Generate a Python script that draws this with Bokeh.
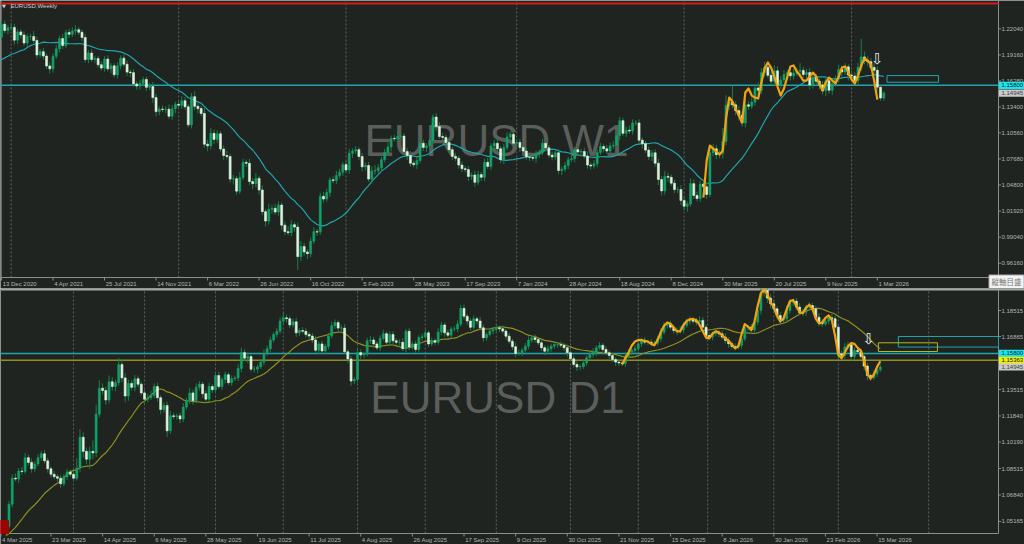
from bokeh.plotting import figure
from bokeh.layouts import column
from bokeh.models import Range1d
from bokeh.core.properties import value
from bokeh.embed import file_html
from bokeh.resources import INLINE

# ---------------- WEEKLY (EURUSD W1) ----------------
# 20 closes before the first visible week (feed the 20-week MA only)
w_pre = [1.1778, 1.1787, 1.1841, 1.1795, 1.1903, 1.1838, 1.1846, 1.1838, 1.1631, 1.1715,
         1.1826, 1.1718, 1.1860, 1.1647, 1.1875, 1.1834, 1.1856, 1.1962, 1.2121, 1.2112]
# weekly closes, week 0 = 13 Dec 2020
w_close = [
    1.2255, 1.2185, 1.2216, 1.2219, 1.2079, 1.2170, 1.2136, 1.2047, 1.2118, 1.2120, 1.2075, 1.1915, 1.1952, 1.1903, 1.1794, 1.1762, 1.1900, 1.1983, 1.2097, 1.2020, 1.2164, 1.2143, 1.2180, 1.2194, 1.2166,
    1.2108, 1.1864, 1.1936, 1.1865, 1.1875, 1.1807, 1.1770, 1.1870, 1.1762, 1.1795, 1.1697, 1.1795, 1.1880, 1.1813, 1.1726, 1.1720, 1.1596, 1.1572, 1.1601, 1.1645, 1.1558, 1.1567, 1.1445, 1.1290, 1.1318,
    1.1314, 1.1317, 1.1239, 1.1322, 1.1370, 1.1360, 1.1410, 1.1343, 1.1144, 1.1455, 1.1348, 1.1323, 1.1270, 1.0930, 1.0912, 1.1050, 1.0983, 1.1045, 1.0877, 1.0806, 1.0794, 1.0545, 1.0550, 1.0412, 1.0563,
    1.0730, 1.0719, 1.0518, 1.0495, 1.0553, 1.0425, 1.0186, 1.0082, 1.0212, 1.0223, 1.0181, 1.0259, 1.0037, 0.9965, 0.9953, 1.0042, 1.0015, 0.9690, 0.9802, 0.9741, 0.9722, 0.9860, 0.9965, 0.9960, 1.0355,
    1.0325, 1.0398, 1.0537, 1.0530, 1.0584, 1.0620, 1.0705, 1.0645, 1.0830, 1.0855, 1.0870, 1.0795, 1.0680, 1.0695, 1.0545, 1.0635, 1.0640, 1.0670, 1.0760, 1.0840, 1.0900, 1.0995, 1.0990, 1.1015, 1.1020,
    1.0850, 1.0805, 1.0720, 1.0705, 1.0750, 1.0940, 1.0895, 1.0910, 1.0970, 1.1230, 1.1125, 1.1015, 1.1005, 1.0950, 1.0870, 1.0795, 1.0775, 1.0700, 1.0660, 1.0650, 1.0575, 1.0590, 1.0510, 1.0595, 1.0565,
    1.0730, 1.0685, 1.0910, 1.0940, 1.0880, 1.0760, 1.0895, 1.1010, 1.1040, 1.0940, 1.0950, 1.0895, 1.0855, 1.0790, 1.0785, 1.0775, 1.0820, 1.0840, 1.0940, 1.0890, 1.0810, 1.0790, 1.0835, 1.0640, 1.0655,
    1.0695, 1.0760, 1.0770, 1.0870, 1.0845, 1.0850, 1.0800, 1.0700, 1.0690, 1.0715, 1.0840, 1.0905, 1.0880, 1.0855, 1.0910, 1.0915, 1.1025, 1.1190, 1.1050, 1.1085, 1.1075, 1.1165, 1.1165, 1.0975, 1.0935,
    1.0865, 1.0795, 1.0835, 1.0720, 1.0540, 1.0415, 1.0575, 1.0565, 1.0500, 1.0430, 1.0430, 1.0310, 1.0245, 1.0270, 1.0495, 1.0365, 1.0330, 1.0490, 1.0460, 1.0375, 1.0835, 1.0880, 1.0815, 1.0830, 1.0960,
    1.1360, 1.1395, 1.1365, 1.1300, 1.1250, 1.1165, 1.1365, 1.1350, 1.1395, 1.1550, 1.1525, 1.1720, 1.1780, 1.1690, 1.1625, 1.1740, 1.1585, 1.1640, 1.1700, 1.1720, 1.1685, 1.1715, 1.1735, 1.1745,
    1.1700, 1.1721, 1.1584, 1.1668, 1.1626, 1.1584, 1.1520, 1.1631, 1.1525, 1.1598, 1.1651, 1.1757, 1.1728, 1.1784, 1.1693, 1.1683, 1.1631, 1.1778, 1.1894, 1.1852, 1.1841, 1.1778, 1.1746, 1.1560, 1.1440, 1.14945]
# upper / lower wick beyond the body, in 10-pip units
w_up = [
    3, 4, 3, 5, 4, 3, 3, 4, 3, 3, 6, 4, 3, 4, 3, 4, 3, 4, 3, 5, 3, 4, 4, 5, 3,
    3, 4, 3, 4, 3, 3, 4, 3, 4, 3, 3, 4, 3, 4, 4, 3, 4, 3, 4, 3, 3, 4, 5, 4, 3,
    4, 3, 5, 4, 3, 4, 5, 4, 3, 4, 6, 4, 3, 7, 5, 6, 4, 4, 3, 4, 5, 3, 4, 3, 6,
    4, 3, 5, 4, 6, 3, 5, 3, 6, 4, 5, 4, 3, 4, 6, 5, 3, 5, 6, 4, 3, 4, 5, 3, 4,
    5, 4, 3, 4, 5, 4, 3, 4, 5, 3, 4, 3, 4, 3, 4, 5, 6, 4, 3, 4, 5, 3, 4, 6, 4,
    3, 4, 5, 3, 4, 5, 4, 3, 4, 3, 4, 5, 4, 3, 4, 3, 4, 3, 4, 3, 4, 3, 5, 4, 3,
    4, 5, 3, 4, 5, 3, 4, 5, 3, 4, 3, 4, 3, 4, 5, 3, 4, 3, 5, 4, 3, 4, 3, 4, 3,
    4, 3, 5, 3, 4, 3, 4, 5, 3, 4, 3, 4, 3, 4, 4, 5, 6, 4, 3, 4, 5, 4, 3, 4, 3,
    3, 4, 3, 4, 5, 4, 6, 4, 3, 4, 3, 5, 4, 3, 6, 5, 4, 4, 5, 3, 7, 5, 4, 4, 15,
    11, 3, 18, 4, 5, 4, 6, 4, 5, 4, 6, 5, 6, 4, 4, 6, 5, 4, 5, 3, 4, 5, 4, 8, 4,
    4, 5, 4, 4, 3, 4, 5, 4, 4, 4, 5, 4, 4, 3, 5, 4, 5, 20, 6, 5, 4, 5, 4, 3, 2]
w_dn = [
    4, 3, 4, 3, 5, 4, 4, 3, 4, 4, 3, 4, 3, 4, 3, 5, 4, 3, 4, 4, 3, 4, 3, 4, 3,
    4, 3, 4, 3, 4, 3, 3, 4, 3, 5, 3, 4, 4, 3, 4, 5, 3, 4, 4, 3, 4, 3, 6, 5, 4,
    3, 4, 3, 4, 5, 3, 4, 3, 3, 4, 4, 5, 3, 4, 6, 4, 5, 4, 3, 5, 3, 4, 6, 4, 3,
    3, 4, 4, 6, 4, 5, 4, 6, 4, 5, 3, 4, 5, 4, 3, 4, 5, 15, 5, 4, 6, 4, 3, 4, 3,
    4, 3, 5, 3, 4, 3, 4, 3, 4, 5, 3, 4, 5, 4, 3, 5, 4, 3, 4, 3, 4, 5, 3, 4, 3,
    4, 5, 4, 3, 5, 3, 4, 5, 3, 4, 5, 3, 4, 4, 3, 4, 3, 4, 4, 3, 5, 4, 5, 3, 4,
    4, 3, 4, 5, 3, 4, 5, 3, 4, 3, 4, 5, 4, 3, 4, 3, 5, 4, 3, 4, 3, 4, 3, 4, 5,
    3, 4, 3, 4, 3, 5, 3, 4, 4, 3, 4, 3, 4, 3, 4, 3, 4, 5, 3, 4, 3, 4, 3, 4, 5,
    3, 4, 5, 4, 6, 5, 4, 5, 3, 4, 4, 5, 4, 6, 3, 4, 3, 4, 3, 5, 3, 4, 5, 4, 6,
    4, 5, 4, 5, 6, 4, 5, 4, 3, 4, 5, 4, 5, 3, 4, 6, 5, 4, 3, 4, 5, 4, 3, 5, 4,
    4, 5, 4, 3, 5, 4, 6, 4, 5, 3, 4, 5, 3, 6, 4, 5, 5, 4, 4, 5, 3, 6, 4, 3, 3]
# orange smoothed line, weeks 218..272
w_orange_start = 218
w_orange = [1.0342, 1.0750, 1.0915, 1.0882, 1.0849, 1.0816, 1.0860, 1.1214, 1.1445, 1.1401,
            1.1324, 1.1247, 1.1169, 1.1501, 1.1545, 1.1467, 1.1445, 1.1434, 1.1611, 1.1765,
            1.1832, 1.1776, 1.1677, 1.1567, 1.1467, 1.1545, 1.1666, 1.1788, 1.1799, 1.1732,
            1.1688, 1.1633, 1.1633, 1.1677, 1.1721, 1.1677, 1.1589, 1.1523, 1.1611, 1.1666,
            1.1633, 1.1600, 1.1677, 1.1776, 1.1788, 1.1721, 1.1644, 1.1600, 1.1688, 1.1799,
            1.1876, 1.1854, 1.1810, 1.1633, 1.1423]
w_tick_idx = [0, 16, 32, 48, 64, 80, 96, 112, 128, 144, 160, 176, 192, 208, 224, 240, 256, 272]
w_tick_lbl = ["13 Dec 2020", "4 Apr 2021", "25 Jul 2021", "14 Nov 2021", "6 Mar 2022", "26 Jun 2022",
              "16 Oct 2022", "5 Feb 2023", "28 May 2023", "17 Sep 2023", "7 Jan 2024", "28 Apr 2024",
              "18 Aug 2024", "8 Dec 2024", "30 Mar 2025", "20 Jul 2025", "9 Nov 2025", "1 Mar 2026"]
w_grid = [3, 55, 107, 160, 212, 264]
w_price_ticks = [1.2204, 1.1916, 1.1628, 1.1340, 1.1056, 1.0768, 1.0480, 1.0192, 0.9904, 0.9616]

# ---------------- DAILY (EURUSD D1) ----------------
d_pre = [1.0375, 1.0405, 1.0380, 1.0330, 1.0305, 1.0360, 1.0385, 1.0465, 1.0490, 1.0485,
         1.0445, 1.0425, 1.0500, 1.0460, 1.0465, 1.0515, 1.0485, 1.0400, 1.0375, 1.0485]
d_close = [
    1.0625, 1.0790, 1.0785, 1.0835, 1.0833, 1.0920, 1.0890, 1.0850, 1.0880, 1.0920, 1.0945, 1.0900, 1.0850, 1.0815, 1.0800, 1.0790, 1.0755, 1.0800, 1.0830, 1.0815,
    1.0790, 1.0855, 1.1050, 1.0960, 1.0910, 1.0960, 1.0950, 1.1195, 1.1360, 1.1345, 1.1285, 1.1400, 1.1370, 1.1395, 1.1510, 1.1425, 1.1310, 1.1390, 1.1365, 1.1420, 1.1385, 1.1330,
    1.1290, 1.1300, 1.1315, 1.1370, 1.1300, 1.1225, 1.1250, 1.1090, 1.1185, 1.1180, 1.1185, 1.1165, 1.1240, 1.1280, 1.1330, 1.1280, 1.1365, 1.1385, 1.1325, 1.1290, 1.1370, 1.1350,
    1.1440, 1.1370, 1.1415, 1.1445, 1.1395, 1.1420, 1.1425, 1.1485, 1.1585, 1.1550, 1.1560, 1.1480, 1.1480, 1.1495, 1.1525, 1.1580, 1.1610, 1.1665, 1.1700, 1.1720, 1.1785,
    1.1805, 1.1800, 1.1760, 1.1780, 1.1710, 1.1725, 1.1720, 1.1700, 1.1690, 1.1665, 1.1600, 1.1640, 1.1595, 1.1625, 1.1690, 1.1755, 1.1775, 1.1740, 1.1740, 1.1590, 1.1545, 1.1405, 1.1415,
    1.1585, 1.1570, 1.1575, 1.1660, 1.1665, 1.1640, 1.1615, 1.1675, 1.1705, 1.1650, 1.1700, 1.1660, 1.1650, 1.1650, 1.1610, 1.1720, 1.1620, 1.1640, 1.1605, 1.1680, 1.1685,
    1.1710, 1.1640, 1.1660, 1.1650, 1.1715, 1.1760, 1.1710, 1.1695, 1.1735, 1.1735, 1.1765, 1.1865, 1.1815, 1.1785, 1.1745,
    1.1799, 1.1785, 1.1742, 1.1679, 1.1700, 1.1721, 1.1731, 1.1742, 1.1736, 1.1721, 1.1689, 1.1657, 1.1622, 1.1579, 1.1584, 1.1600, 1.1626, 1.1663, 1.1679, 1.1668,
    1.1647, 1.1616, 1.1594, 1.1610, 1.1626, 1.1636, 1.1636, 1.1631, 1.1616, 1.1584, 1.1546, 1.1510, 1.1494, 1.1496, 1.1520, 1.1552, 1.1573, 1.1588, 1.1616, 1.1631,
    1.1605, 1.1584, 1.1567, 1.1541, 1.1525, 1.1520, 1.1516, 1.1563, 1.1588, 1.1598, 1.1610,
    1.1641, 1.1662, 1.1651, 1.1651, 1.1641, 1.1645, 1.1672, 1.1714, 1.1757, 1.1767, 1.1746, 1.1725, 1.1720, 1.1728, 1.1757, 1.1784, 1.1793, 1.1784, 1.1778, 1.1789,
    1.1746, 1.1693, 1.1683, 1.1704, 1.1714, 1.1704, 1.1683, 1.1662, 1.1641, 1.1624, 1.1620, 1.1631, 1.1672, 1.1742, 1.1746, 1.1728, 1.1778, 1.1852, 1.1960, 1.1980,
    1.1930, 1.1894, 1.1862, 1.1820, 1.1789, 1.1799, 1.1852, 1.1904, 1.1910, 1.1873, 1.1836, 1.1841, 1.1873, 1.1883, 1.1862, 1.1809, 1.1778, 1.1767, 1.1784, 1.1805,
    1.1799, 1.1746, 1.1577, 1.1567, 1.1620, 1.1635, 1.1560, 1.1600, 1.1590, 1.1560, 1.1500, 1.1440, 1.1426, 1.1451, 1.1476, 1.14945]
# wicks in 5-pip units
d_up = [
    4, 5, 6, 4, 5, 6, 4, 5, 4, 4, 3, 5, 4, 3, 4, 3, 4, 3, 4, 3,
    4, 12, 10, 6, 5, 6, 14, 12, 10, 6, 5, 8, 6, 4, 8, 7, 6, 5, 4, 5, 4, 3,
    4, 5, 6, 4, 5, 3, 4, 5, 6, 4, 3, 4, 5, 4, 6, 4, 5, 4, 3, 4, 5, 3,
    4, 5, 3, 4, 3, 4, 3, 5, 6, 4, 5, 3, 4, 3, 4, 5, 4, 4, 3, 4, 5,
    6, 4, 3, 4, 5, 3, 4, 4, 3, 4, 5, 3, 4, 3, 4, 5, 4, 3, 4, 5, 3, 4, 3,
    5, 4, 3, 4, 5, 4, 3, 4, 5, 3, 4, 4, 3, 4, 5, 3, 4, 3, 4, 3, 4,
    4, 3, 4, 3, 5, 4, 3, 4, 3, 4, 5, 4, 5, 3, 4,
    4, 3, 5, 4, 3, 4, 3, 4, 3, 4, 3, 4, 3, 5, 4, 3, 4, 5, 3, 4, 3, 4, 3, 4, 3, 4, 3, 4, 3, 4,
    3, 4, 5, 3, 4, 3, 4, 5, 3, 4, 3, 4, 3, 4, 3, 4, 3, 5, 4, 3, 4,
    4, 3, 4, 3, 4, 3, 4, 5, 4, 3, 4, 3, 4, 5, 4, 3, 4, 3, 4, 5, 4, 3, 4, 3, 4, 3, 4, 5, 4, 3,
    4, 3, 5, 4, 3, 4, 5, 6, 10, 21, 6, 5, 4, 3, 4, 5, 6, 4, 3, 4, 5, 4, 3, 4, 3, 4, 5, 4, 3, 4,
    5, 4, 3, 4, 5, 4, 3, 4, 3, 4, 3, 4, 3, 4, 5, 3]
d_dn = [
    3, 4, 3, 5, 4, 3, 4, 5, 4, 3, 4, 3, 5, 4, 3, 4, 5, 3, 4, 3,
    4, 3, 5, 8, 6, 12, 8, 5, 4, 5, 6, 4, 5, 6, 4, 5, 8, 6, 4, 5, 4, 3,
    5, 4, 3, 4, 5, 6, 4, 8, 4, 3, 4, 5, 4, 3, 4, 5, 3, 4, 5, 4, 3, 4,
    4, 3, 4, 5, 3, 4, 3, 4, 5, 4, 6, 3, 4, 5, 3, 4, 3, 4, 3, 4, 3,
    4, 5, 4, 3, 5, 4, 3, 4, 5, 4, 3, 5, 4, 3, 4, 3, 4, 5, 4, 3, 5, 6, 4,
    4, 5, 4, 3, 4, 5, 3, 4, 3, 4, 5, 4, 3, 4, 3, 5, 4, 3, 4, 3, 4,
    3, 4, 3, 4, 3, 4, 5, 3, 4, 3, 4, 3, 4, 5, 4,
    3, 4, 3, 5, 4, 3, 4, 3, 4, 3, 4, 3, 4, 5, 3, 4, 3, 4, 3, 4, 3, 4, 5, 3, 4, 3, 4, 3, 4, 5,
    3, 4, 5, 4, 3, 4, 3, 4, 5, 3, 4, 3, 4, 3, 5, 4, 3, 4, 3, 4, 3,
    3, 4, 3, 4, 3, 4, 3, 4, 3, 4, 3, 4, 5, 3, 4, 3, 4, 3, 4, 3, 4, 5, 3, 4, 3, 4, 3, 4, 5, 3,
    4, 3, 4, 3, 4, 5, 3, 4, 5, 4, 6, 5, 4, 5, 6, 4, 3, 4, 5, 4, 3, 4, 5, 4, 3, 4, 5, 4, 3, 4,
    3, 4, 8, 5, 4, 3, 5, 4, 3, 4, 5, 6, 4, 3, 4, 3]
d_orange_start = 190
d_orange = [1.1510, 1.1550, 1.1585, 1.1630, 1.1655, 1.1665, 1.1664, 1.1660, 1.1655, 1.1640,
            1.1632, 1.1665, 1.1715, 1.1755, 1.1776, 1.1768, 1.1742, 1.1720, 1.1720, 1.1760,
            1.1785, 1.1796, 1.1798, 1.1790, 1.1760, 1.1720, 1.1680, 1.1675, 1.1705, 1.1720,
            1.1712, 1.1695, 1.1675, 1.1660, 1.1635, 1.1612, 1.1625, 1.1700, 1.1765, 1.1750,
            1.1728, 1.1780, 1.1880, 1.1960, 1.1985, 1.1955, 1.1905, 1.1872, 1.1820, 1.1782,
            1.1800, 1.1860, 1.1910, 1.1918, 1.1880, 1.1840, 1.1835, 1.1870, 1.1888, 1.1860,
            1.1800, 1.1770, 1.1775, 1.1805, 1.1820, 1.1790, 1.1690, 1.1570, 1.1550, 1.1585,
            1.1625, 1.1645, 1.1640, 1.1615, 1.1598, 1.1530, 1.1450, 1.1420, 1.1445, 1.1495, 1.1530]
d_tick_idx = [-2.5, 13, 29, 45, 61, 77, 93, 109, 125, 141, 157, 173, 189, 205, 221, 237, 253, 269]
d_tick_lbl = ["4 Mar 2025", "23 Mar 2025", "14 Apr 2025", "6 May 2025", "28 May 2025", "19 Jun 2025",
              "11 Jul 2025", "4 Aug 2025", "26 Aug 2025", "17 Sep 2025", "9 Oct 2025", "30 Oct 2025",
              "21 Nov 2025", "15 Dec 2025", "8 Jan 2026", "30 Jan 2026", "23 Feb 2026", "15 Mar 2026"]
d_grid = [20, 42, 64, 85, 108, 129, 151, 174, 195, 216.5, 237, 257, 285]
d_price_ticks = [1.18515, 1.16865, 1.13515, 1.11840, 1.10190, 1.08515, 1.06840, 1.05165]

# levels / drawn objects
level_cyan = 1.15800
level_yellow = 1.15363
last_price = 1.14945
w_zone = (275, 291, 1.1614, 1.1688)
d_zone_cyan = (275.6, 1.1620, 1.1687)
d_zone_yellow = (269.4, 287.7, 1.1592, 1.1647)
w_arrow = (272, 1.1876)
d_arrow = (266.4, 1.1674)

BG = "#1f2420"
BULL = "#12a168"
BEAR = "#dcf3dc"
WICK = "#1f7c46"
GRIDC = "#5e635e"
AXC = "#8c8c8c"
TXT = "#b4b4b4"
CYAN = "#1fa5ad"
OLIVE = "#8f8f1f"
ORANGE = "#f5a30c"
FONT = "Liberation Sans"
SMALL = "6px"


# pixel <-> data helpers for each pane (chart frame: x 0..998 px)
def tx(px):
    return (px - 1) / 3.22


def ty(py):
    return 1.2204 - (py - 28.3) / 906.0


def bx(px):
    return (px - 8.5) / 3.227


def by(py):
    return 1.18515 - (py - 310) / 1580.0


def sma(vals, n):
    out = []
    for j in range(len(vals)):
        out.append(float("nan") if j < n - 1 else sum(vals[j - n + 1:j + 1]) / n)
    return out


def draw_candles(p, closes, prev_close, up, dn, unit):
    opens = [prev_close] + closes[:-1]
    xs = list(range(len(closes)))
    hi = [max(o, c) + u * unit for o, c, u in zip(opens, closes, up)]
    lo = [min(o, c) - d * unit for o, c, d in zip(opens, closes, dn)]
    top = [max(o, c) for o, c in zip(opens, closes)]
    bot = [min(o, c) for o, c in zip(opens, closes)]
    cols = [BULL if c >= o else BEAR for o, c in zip(opens, closes)]
    p.segment(x0=xs, y0=lo, x1=xs, y1=hi, color=WICK, line_width=1)
    p.vbar(x=xs, width=0.62, top=top, bottom=bot, fill_color=cols, line_color=cols, line_width=0.6)


def txt(p, x, y, s, size=SMALL, color=TXT, align="left", font=FONT):
    p.text(x=x, y=y, text=s, text_font=value(font), text_font_size=value(size),
           text_color=color, text_align=align, text_baseline="middle")


def decorate(p, fx, fy, y_top_px, y_axis_px, tick_idx, tick_lbl, grid, price_ticks):
    x_axis = fx(998)
    n = len(grid)
    p.segment(x0=grid, y0=[fy(y_axis_px)] * n, x1=grid, y1=[fy(y_top_px)] * n,
              color=GRIDC, line_width=1, line_dash="2 2")
    # axes
    p.segment(x0=[fx(0), x_axis], y0=[fy(y_axis_px), fy(y_axis_px)],
              x1=[x_axis, x_axis], y1=[fy(y_axis_px), fy(y_top_px)], color=AXC, line_width=1)
    m = len(tick_idx)
    p.segment(x0=tick_idx, y0=[fy(y_axis_px)] * m, x1=tick_idx, y1=[fy(y_axis_px + 3)] * m,
              color=AXC, line_width=1)
    txt(p, [t + 0.35 for t in tick_idx], [fy(y_axis_px + 6)] * m, tick_lbl)
    k = len(price_ticks)
    p.segment(x0=[x_axis] * k, y0=price_ticks, x1=[fx(1000.5)] * k, y1=price_ticks,
              color=AXC, line_width=1)
    txt(p, [fx(1001)] * k, price_ticks, ["%.5f" % v for v in price_ticks])


def tag(p, fx, fy_per_px, level, text, bg, fg):
    h = 3.6 * fy_per_px
    p.quad(left=[fx(998.5)], right=[fx(1024)], bottom=[level - h], top=[level + h],
           fill_color=bg, line_color=None)
    txt(p, [fx(1001)], [level], [text], color=fg)


# ---------- top: weekly ----------
p1 = figure(width=1024, height=288, x_range=Range1d(tx(0), tx(1024)),
            y_range=Range1d(ty(288), ty(0)), x_axis_type=None, y_axis_type=None,
            output_backend="svg", toolbar_location=None, min_border=0,
            background_fill_color=BG, border_fill_color=BG, outline_line_color=None)
txt(p1, [tx(496)], [ty(140)], ["EURUSD W1"], size="44px", color="#5b5e5b", align="center")
decorate(p1, tx, ty, 0, 277, w_tick_idx, w_tick_lbl, w_grid, w_price_ticks)
p1.segment(x0=[tx(0.6)], y0=[ty(0)], x1=[tx(0.6)], y1=[ty(277)], color="#777777", line_width=1.5)
p1.segment(x0=[tx(0)], y0=[ty(3)], x1=[tx(998)], y1=[ty(3)], color="#d41c1c", line_width=2)
p1.segment(x0=[tx(0)], y0=[level_cyan], x1=[tx(998)], y1=[level_cyan], color=CYAN, line_width=1.5)
w_all = w_pre + w_close
p1.line(x=list(range(-len(w_pre), len(w_close))), y=sma(w_all, 20), color=CYAN, line_width=1.2)
draw_candles(p1, w_close, w_pre[-1], w_up, w_dn, 0.001)
p1.line(x=list(range(w_orange_start, w_orange_start + len(w_orange))), y=w_orange,
        color=ORANGE, line_width=2.2, line_join="round")
p1.quad(left=[w_zone[0]], right=[w_zone[1]], bottom=[w_zone[2]], top=[w_zone[3]],
        fill_color=None, line_color=CYAN, line_width=1)
txt(p1, [w_arrow[0]], [w_arrow[1]], ["⇩"], size="15px", color="#e8e8e8", align="center",
    font="DejaVu Sans")
txt(p1, [tx(3.5)], [ty(5)], ["▼"], size="5px", color="#d0d0d0", align="center", font="DejaVu Sans")
txt(p1, [tx(10)], [ty(5.5)], ["EURUSD,Weekly"], color="#cfcfcf")
tag(p1, tx, 1 / 906.0, level_cyan, "1.15800", "#17e6ee", "#101010")
tag(p1, tx, 1 / 906.0, last_price, "1.14945", "#c9c9c9", "#404040")
p1.quad(left=[tx(988.5)], right=[tx(1023.5)], bottom=[ty(288)], top=[ty(274.5)],
        fill_color="#f4f4f4", line_color="#a8a8a8", line_width=1)
txt(p1, [tx(1006)], [ty(281.3)], ["縦軸目盛"], size="7.5px", color="#7a7a7a", align="center",
    font="Noto Sans CJK JP")

# ---------- bottom: daily ----------
p2 = figure(width=1024, height=256, x_range=Range1d(bx(0), bx(1024)),
            y_range=Range1d(by(544), by(288)), x_axis_type=None, y_axis_type=None,
            output_backend="svg", toolbar_location=None, min_border=0,
            background_fill_color=BG, border_fill_color=BG, outline_line_color=None)
txt(p2, [bx(497)], [by(397)], ["EURUSD D1"], size="44px", color="#5b5e5b", align="center")
decorate(p2, bx, by, 289, 533, d_tick_idx, d_tick_lbl, d_grid, d_price_ticks)
p2.segment(x0=[bx(0)], y0=[by(289)], x1=[bx(1024)], y1=[by(289)], color="#a6a6a6", line_width=2)
p2.segment(x0=[bx(0)] * 2, y0=[level_cyan, level_yellow], x1=[bx(998)] * 2,
           y1=[level_cyan, level_yellow], color=[CYAN, OLIVE], line_width=1.5)
d_all = d_pre + d_close
p2.line(x=list(range(-len(d_pre), len(d_close))), y=sma(d_all, 20), color=OLIVE, line_width=1.2)
draw_candles(p2, d_close, d_pre[-1], d_up, d_dn, 0.0005)
p2.line(x=list(range(d_orange_start, d_orange_start + len(d_orange))), y=d_orange,
        color=ORANGE, line_width=2.2, line_join="round")
p2.quad(left=[d_zone_cyan[0]], right=[bx(998)], bottom=[d_zone_cyan[1]], top=[d_zone_cyan[2]],
        fill_color=None, line_color=CYAN, line_width=1)
p2.quad(left=[d_zone_yellow[0]], right=[d_zone_yellow[1]], bottom=[d_zone_yellow[2]],
        top=[d_zone_yellow[3]], fill_color=None, line_color="#b8b820", line_width=1)
txt(p2, [d_arrow[0]], [d_arrow[1]], ["⇩"], size="15px", color="#e8e8e8", align="center",
    font="DejaVu Sans")
p2.quad(left=[bx(0)], right=[bx(8)], bottom=[by(533)], top=[by(520)], color="#a00000")
tag(p2, bx, 1 / 1580.0, level_cyan, "1.15800", "#17e6ee", "#101010")
tag(p2, bx, 1 / 1580.0, level_yellow, "1.15363", "#f0f000", "#101010")
tag(p2, bx, 1 / 1580.0, last_price, "1.14945", "#c9c9c9", "#404040")

layout = column(p1, p2, spacing=0)
open("out.html", "w").write(file_html(layout, INLINE))
